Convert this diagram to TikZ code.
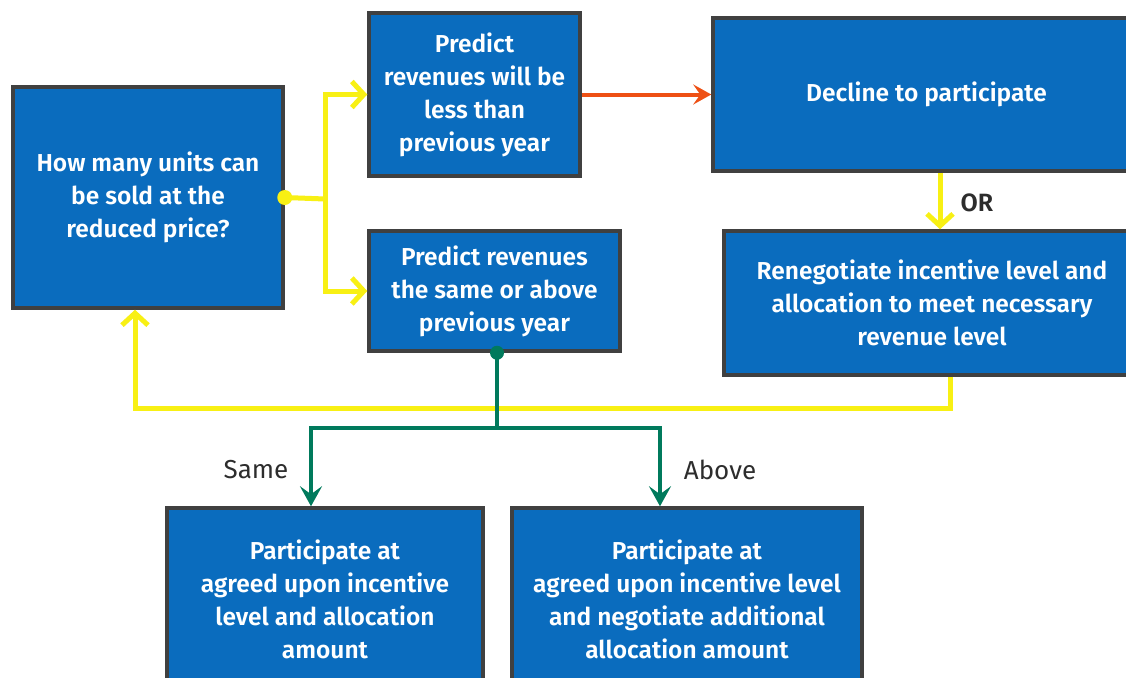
\documentclass[tikz,border=0pt]{standalone}
\usepackage{fontspec}
\setmainfont{Fira Sans}[BoldFont={Fira Sans SemiBold}]
\usetikzlibrary{arrows.meta}
\definecolor{boxblue}{RGB}{10,108,190}
\definecolor{boxborder}{RGB}{64,64,64}
\definecolor{yel}{RGB}{248,240,20}
\definecolor{org}{RGB}{238,80,20}
\definecolor{grn}{RGB}{0,122,92}
\definecolor{lbl}{RGB}{45,45,45}
\begin{document}
\begin{tikzpicture}[x=1pt,y=-1pt,
  box/.style={draw=boxborder, line width=3.5pt, fill=boxblue, text=white, align=center,
    font=\fontsize{24.5}{33}\selectfont\bfseries, inner sep=0pt},
  yline/.style={draw=yel, line width=5pt},
  yarr/.style={yline, -{Straight Barb[length=12pt,width=26pt]}},
  oarr/.style={draw=org, line width=4pt, -{Stealth[length=18pt,width=20pt,inset=7pt]}},
  gline/.style={draw=grn, line width=4pt},
  garr/.style={gline, -{Stealth[length=20pt,width=22pt,inset=8pt]}},
  lab/.style={text=lbl, font=\fontsize{25}{28}\selectfont\bfseries}]
\useasboundingbox (0,0) rectangle (1126,677);
\clip (0,0) rectangle (1126,677);
\fill[white] (0,0) rectangle (1126,677);
% boxes
\node[box, minimum width=270pt, minimum height=221pt] (q) at (148,197.5)
  {How many units can\\be sold at the\\reduced price?};
\node[box, minimum width=211pt, minimum height=163pt] (p1) at (474.5,94.5)
  {Predict\\revenues will be\\less than\\previous year};
\node[box, minimum width=251pt, minimum height=120pt] (p2) at (494.5,291)
  {Predict revenues\\the same or above\\previous year};
\node[box, minimum width=427pt, minimum height=153pt] (d) at (926.5,94.5)
  {Decline to participate};
\node[box, minimum width=416pt, minimum height=144pt] (r) at (932,303)
  {Renegotiate incentive level and\\allocation to meet necessary\\revenue level};
\node[box, minimum width=316pt, minimum height=182pt] (bl) at (325,599)
  {Participate at\\agreed upon incentive\\level and allocation\\amount};
\node[box, minimum width=350pt, minimum height=182pt] (br) at (687,599)
  {Participate at\\agreed upon incentive level\\and negotiate additional\\allocation amount};
% coordinates
\coordinate (yj) at (325,199);
\coordinate (orx) at (940,0);
\coordinate (lb) at (950,408);
\coordinate (la) at (135,408);
\coordinate (gx) at (497,0);
\coordinate (gj) at (497,428);
\coordinate (gl) at (311,428);
\coordinate (gr) at (660,428);
% yellow loop back (drawn first, under green)
\draw[yarr] (r.south -| lb) -- (lb) -- (la) -- (q.south -| la);
% yellow from question
\draw[yline] (q.east) -- (yj);
\draw[yarr] (yj) |- (p1.west);
\draw[yarr] (yj) |- (p2.west);
\fill[yel] (q.east) circle (7.5pt);
% orange
\draw[oarr] (p1.east) -- (p1.east -| d.west);
% OR
\draw[yarr] (d.south -| orx) -- (r.north -| orx);
\node[lab] (or) at (977,203) {OR};
% green
\draw[gline] (p2.south -| gx) -- (gj);
\draw[garr] (gj) -- (gl) -- (bl.north -| gl);
\draw[garr] (gj) -- (gr) -- (br.north -| gr);
\fill[grn] (p2.south -| gx) circle (7pt);
\node[lab, font=\fontsize{26}{28}\selectfont] (same) at (256,470) {Same};
\node[lab, font=\fontsize{26}{28}\selectfont] (above) at (720,470) {Above};
\end{tikzpicture}
\end{document}
